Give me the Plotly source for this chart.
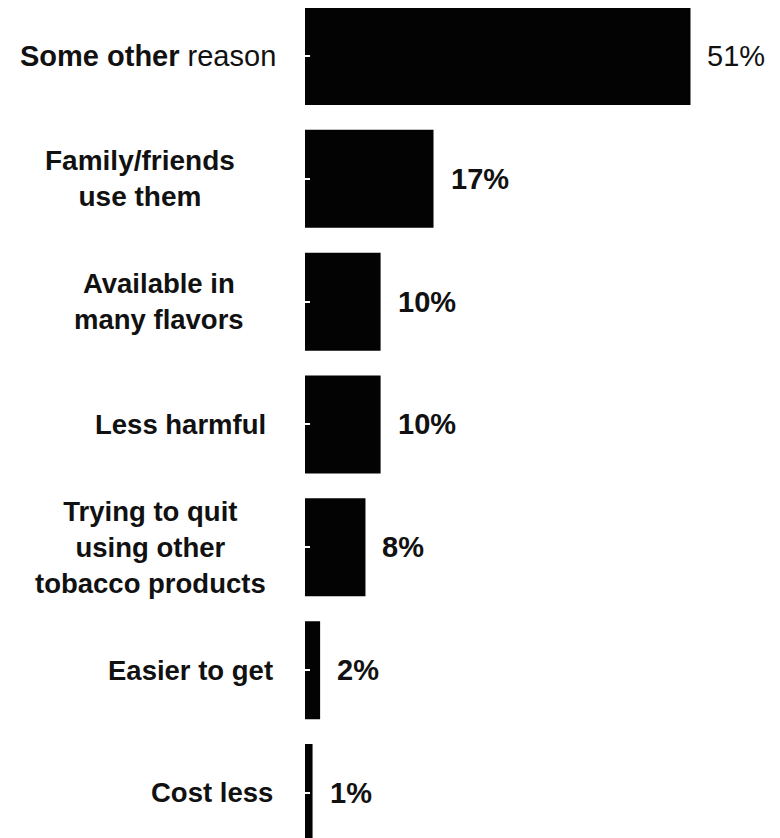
import plotly.graph_objects as go

categories = ["Some other reason", "Family/friends use them", "Available in many flavors",
              "Less harmful", "Trying to quit using other tobacco products",
              "Easier to get", "Cost less"]
label_html = ["<b>Some other</b> reason", "<b>Family/friends<br>use them</b>",
              "<b>Available in<br>many flavors</b>", "<b>Less harmful</b>",
              "<b>Trying to quit<br>using other<br>tobacco products</b>",
              "<b>Easier to get</b>", "<b>Cost less</b>"]
values = [51, 17, 10, 10, 8, 2, 1]
value_labels = ["51%", "<b>17%</b>", "<b>10%</b>", "<b>10%</b>", "<b>8%</b>", "<b>2%</b>", "<b>1%</b>"]

# layout-only: horizontal offset of each label's right edge from the bar baseline (px)
label_shift = [-27, -68, -59, -37, -37, -30, -30]
label_size = [29, 28, 27.5, 27.5, 27.5, 27.5, 27.5]

FONT = "Liberation Sans"
pos = list(range(len(categories)))

fig = go.Figure()
fig.add_trace(go.Bar(
    x=values, y=pos, orientation="h",
    marker=dict(color="#030303", line=dict(width=0)),
    width=0.798, hoverinfo="skip",
))

annotations = []
for p, lab, sh, fs in zip(pos, label_html, label_shift, label_size):
    annotations.append(dict(
        x=0, xref="paper", y=p, yref="y", text=lab, showarrow=False,
        xanchor="right", yanchor="middle", align="center", xshift=sh,
        font=dict(family=FONT, size=fs, color="#111111"),
    ))
for p, v, t in zip(pos, values, value_labels):
    annotations.append(dict(
        x=v, xref="x", y=p, yref="y", text=t, showarrow=False,
        xanchor="left", yanchor="middle", xshift=15,
        font=dict(family=FONT, size=29, color="#111111"),
    ))

fig.update_layout(
    width=780, height=838,
    margin=dict(l=297, r=0, t=0, b=0),
    paper_bgcolor="white", plot_bgcolor="white",
    showlegend=False,
    xaxis=dict(range=[0, 63.9], visible=False, fixedrange=True),
    yaxis=dict(range=[6.4316, -0.3908], showticklabels=False, showgrid=False,
               zeroline=False, tickmode="array", tickvals=pos, ticks="inside",
               ticklen=5, tickwidth=2, tickcolor="white", showline=False,
               fixedrange=True),
    annotations=annotations,
    bargap=0.2,
)

fig.write_html("out.html")
